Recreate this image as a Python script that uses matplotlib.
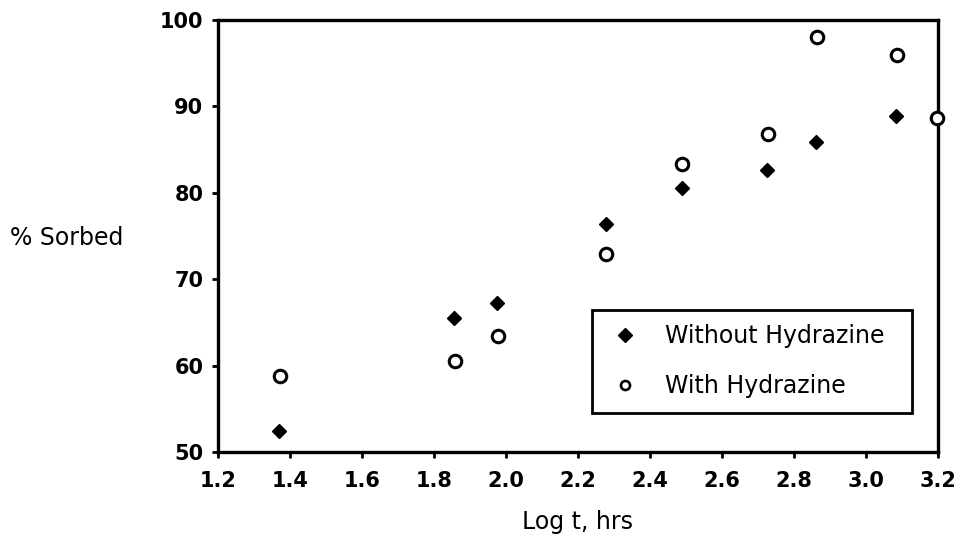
import matplotlib
matplotlib.use("Agg")
import matplotlib.pyplot as plt
from matplotlib.lines import Line2D

plt.rcParams['font.family'] = ['DejaVu Sans']

# Data
log_t_without = [1.37, 1.855, 1.975, 2.278, 2.489, 2.725, 2.861, 3.083]
sorbed_without = [52.4, 65.5, 67.3, 76.4, 80.6, 82.6, 85.9, 88.9]

log_t_with = [1.372, 1.857, 1.977, 2.279, 2.49, 2.727, 2.863, 3.085, 3.197]
sorbed_with = [58.8, 60.5, 63.4, 72.9, 83.3, 86.8, 98.0, 95.9, 88.7]

x_ticks = [1.2, 1.4, 1.6, 1.8, 2.0, 2.2, 2.4, 2.6, 2.8, 3.0, 3.2]
y_ticks = [50, 60, 70, 80, 90, 100]
labels = ["Without Hydrazine", "With Hydrazine"]

fig = plt.figure(figsize=(9.65, 5.37), dpi=100)
ax = fig.add_axes([0.2259, 0.1583, 0.7461, 0.8045])

ax.plot(log_t_without, sorbed_without, linestyle='none', marker='D',
        markersize=7.5, color='black', clip_on=False, zorder=5)
ax.plot(log_t_with, sorbed_with, linestyle='none', marker='o',
        markersize=9, markerfacecolor='white', markeredgecolor='black',
        markeredgewidth=2.2, clip_on=False, zorder=5)

ax.set_xlim(1.2, 3.2)
ax.set_ylim(50, 100)
ax.set_xticks(x_ticks)
ax.set_xticklabels([f"{v:.1f}" for v in x_ticks])
ax.set_yticks(y_ticks)
ax.set_yticklabels([str(v) for v in y_ticks])

for s in ax.spines.values():
    s.set_linewidth(2.4)
    s.set_color('black')

ax.tick_params(axis='both', direction='out', length=4.5, width=2,
               labelsize=15)
ax.tick_params(axis='x', pad=9)
ax.tick_params(axis='y', pad=6)
for lab in ax.get_xticklabels() + ax.get_yticklabels():
    lab.set_fontweight('bold')

fig.text(10 / 965, 1 - 238 / 537, "% Sorbed", fontsize=17, ha='left', va='center')
fig.text(577 / 965, 1 - 522 / 537, "Log t, hrs", fontsize=17, ha='center', va='center')

handles = [
    Line2D([], [], linestyle='none', marker='D', markersize=7.5, color='black'),
    Line2D([], [], linestyle='none', marker='o', markersize=6.5,
           markerfacecolor='white', markeredgecolor='black', markeredgewidth=1.9),
]
leg = ax.legend(handles, labels, loc='upper left',
                bbox_to_anchor=(0.519, 0.329, 0.445, 0.0), mode='expand',
                fontsize=17, frameon=True, fancybox=False, borderaxespad=0,
                handlelength=1.64, handletextpad=0.87, labelspacing=1.12,
                borderpad=0.6, framealpha=1)
leg.get_frame().set_edgecolor('black')
leg.get_frame().set_linewidth(2)

fig.savefig("out.png", dpi=100)
